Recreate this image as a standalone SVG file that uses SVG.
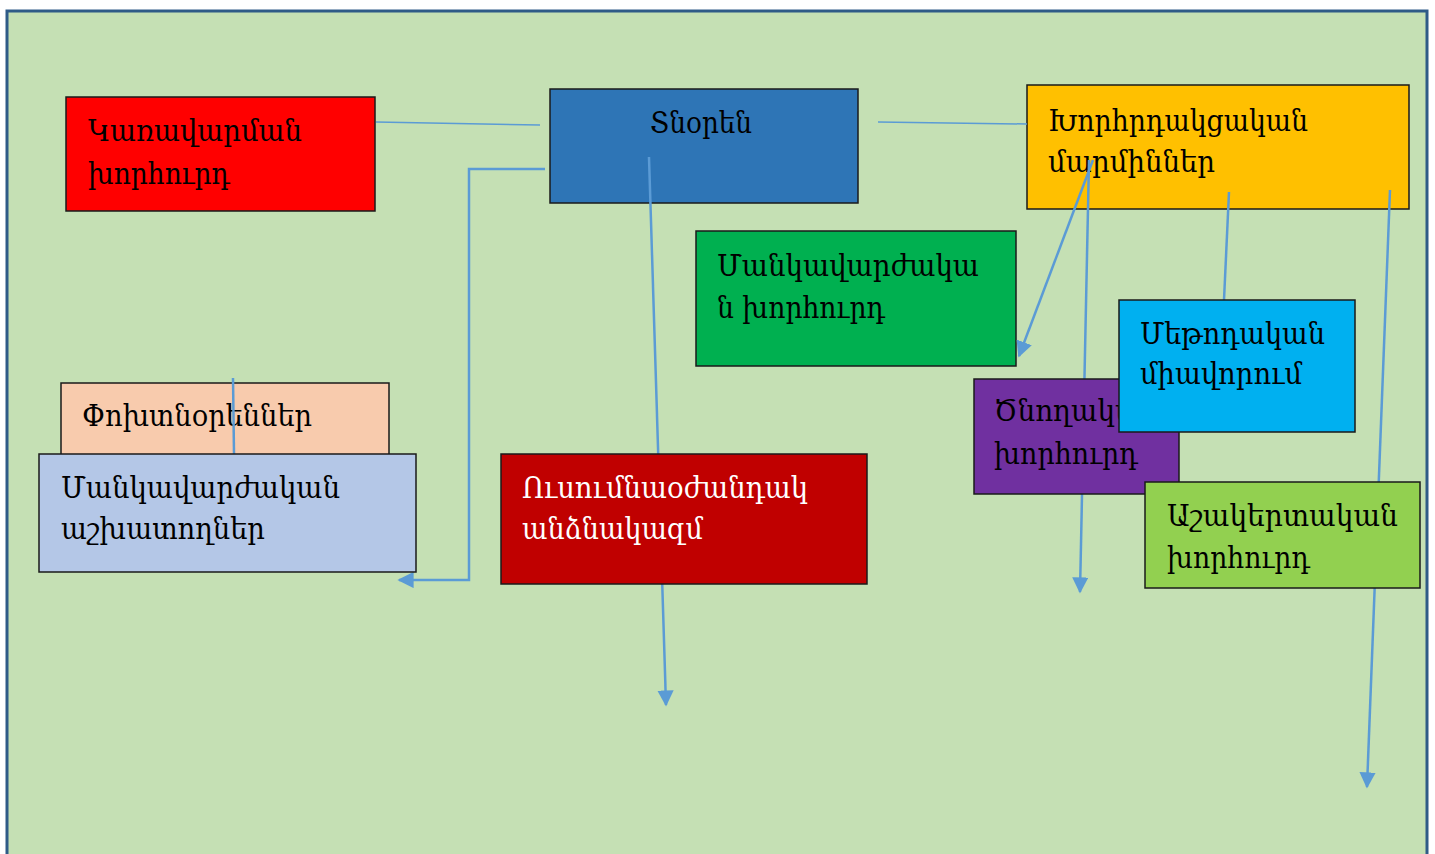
<svg xmlns="http://www.w3.org/2000/svg" width="1435" height="854" viewBox="0 0 1435 854">
<defs>
<marker id="ah" viewBox="0 0 10 10" refX="9" refY="5" markerWidth="6.5" markerHeight="6.5" markerUnits="strokeWidth" orient="auto">
<path d="M0,0 L10,5 L0,10 z" fill="#5b9bd5"/>
</marker>
<style>
.box{stroke:#1a1a1a;stroke-width:1.5}
.t{font-family:"DejaVu Serif","Liberation Serif",serif;font-size:30px;fill:#000}
.w{fill:#fff}
.c{fill:none;stroke:#5b9bd5;stroke-width:2.5}
.c1{fill:none;stroke:#5b9bd5;stroke-width:1.5}
</style>
</defs>
<rect x="7" y="11" width="1420" height="850" fill="#c5e0b4" stroke="#2f5b87" stroke-width="3"/>
<g id="n-red">
<rect class="box" x="66" y="97" width="309" height="114" fill="#ff0000"/>
<text class="t" x="88" y="141" textLength="214" lengthAdjust="spacingAndGlyphs">Կառավարման</text>
<text class="t" x="88" y="184" textLength="142" lengthAdjust="spacingAndGlyphs">խորհուրդ</text>
</g>
<g id="n-director">
<rect class="box" x="550" y="89" width="308" height="114" fill="#2e75b6"/>
<text class="t" x="650" y="133" textLength="102" lengthAdjust="spacingAndGlyphs">Տնօրեն</text>
</g>
<g id="n-advisory">
<rect class="box" x="1027" y="85" width="382" height="124" fill="#ffc000"/>
<text class="t" x="1048" y="131" textLength="260" lengthAdjust="spacingAndGlyphs">Խորհրդակցական</text>
<text class="t" x="1048" y="172" textLength="167" lengthAdjust="spacingAndGlyphs">մարմիններ</text>
</g>
<g id="n-pedcouncil">
<rect class="box" x="696" y="231" width="320" height="135" fill="#00b050"/>
<text class="t" x="717" y="276" textLength="262" lengthAdjust="spacingAndGlyphs">Մանկավարժակա</text>
<text class="t" x="717" y="318" textLength="168" lengthAdjust="spacingAndGlyphs">ն խորհուրդ</text>
</g>
<g id="n-deputies">
<rect class="box" x="61" y="383" width="328" height="72" fill="#f8cbad"/>
<text class="t" x="82" y="426" textLength="230" lengthAdjust="spacingAndGlyphs">Փոխտնօրեններ</text>
</g>
<g id="connectors">
<line class="c1" x1="376" y1="122" x2="540" y2="125"/>
<line class="c1" x1="878" y1="122" x2="1027" y2="124"/>
<polyline class="c" points="545,169 469,169 469,580 399,580" marker-end="url(#ah)"/>
<line class="c" x1="649" y1="157" x2="666" y2="705" marker-end="url(#ah)"/>
<line class="c" x1="1093" y1="160" x2="1019" y2="356" marker-end="url(#ah)"/>
<line class="c" x1="1089" y1="160" x2="1080" y2="592" marker-end="url(#ah)"/>
<line class="c" x1="1229" y1="192" x2="1224" y2="300"/>
<line class="c" x1="1390" y1="190" x2="1367" y2="787" marker-end="url(#ah)"/>
<line class="c" x1="233" y1="378" x2="234" y2="454"/>
</g>
<g id="n-parents">
<rect class="box" x="974" y="379" width="205" height="115" fill="#7030a0"/>
<text class="t" x="994" y="421" textLength="165" lengthAdjust="spacingAndGlyphs">Ծնողական</text>
<text class="t" x="994" y="464" textLength="144" lengthAdjust="spacingAndGlyphs">խորհուրդ</text>
</g>
<g id="n-method">
<rect class="box" x="1119" y="300" width="236" height="132" fill="#00b0f0"/>
<text class="t" x="1140" y="344" textLength="185" lengthAdjust="spacingAndGlyphs">Մեթոդական</text>
<text class="t" x="1140" y="384" textLength="162" lengthAdjust="spacingAndGlyphs">միավորում</text>
</g>
<g id="n-students">
<rect class="box" x="1145" y="482" width="275" height="106" fill="#92d050"/>
<text class="t" x="1167" y="526" textLength="231" lengthAdjust="spacingAndGlyphs">Աշակերտական</text>
<text class="t" x="1167" y="568" textLength="143" lengthAdjust="spacingAndGlyphs">խորհուրդ</text>
</g>
<g id="n-teachers">
<rect class="box" x="39" y="454" width="377" height="118" fill="#b4c7e7"/>
<text class="t" x="61" y="498" textLength="279" lengthAdjust="spacingAndGlyphs">Մանկավարժական</text>
<text class="t" x="61" y="539" textLength="204" lengthAdjust="spacingAndGlyphs">աշխատողներ</text>
</g>
<g id="n-support">
<rect class="box" x="501" y="454" width="366" height="130" fill="#c00000"/>
<text class="t w" x="522" y="498" textLength="286" lengthAdjust="spacingAndGlyphs">Ուսումնաօժանդակ</text>
<text class="t w" x="522" y="539" textLength="181" lengthAdjust="spacingAndGlyphs">անձնակազմ</text>
</g>
</svg>
